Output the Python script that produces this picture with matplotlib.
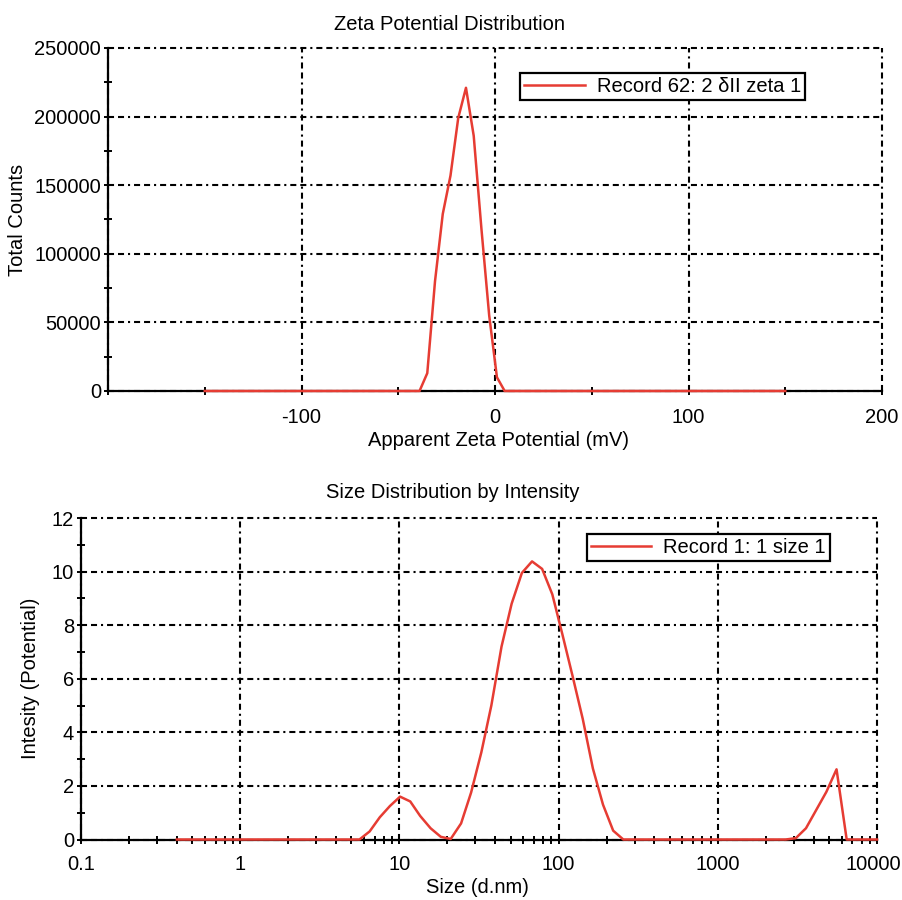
import matplotlib
matplotlib.use("Agg")
import matplotlib.pyplot as plt
from matplotlib.ticker import MultipleLocator, FixedLocator, FixedFormatter, LogLocator, NullFormatter
from matplotlib.transforms import ScaledTranslation

plt.rcParams['font.family'] = ['Liberation Sans', 'DejaVu Sans']

# ---- data: zeta potential ----
zeta_mv = [-150, -39, -35, -31, -27, -23, -19, -15, -11, -7, -3, 1, 5, 150]
zeta_counts = [0, 0, 13000, 80000, 129000, 157000, 199000, 221000, 186000, 118000, 55000, 10000, 0, 0]
zeta_xticks = [-200, -100, 0, 100, 200]
zeta_xticklabels = ['', '-100', '0', '100', '200']
zeta_yticks = [0, 50000, 100000, 150000, 200000, 250000]
zeta_legend = 'Record 62: 2 δII zeta 1'

# ---- data: size distribution ----
size_nm = [0.4, 5.61, 6.50, 7.53, 8.72, 10.1, 11.7, 13.5, 15.7, 18.2, 21.0, 24.4, 28.2,
           32.7, 37.8, 43.8, 50.7, 58.8, 68.1, 78.8, 91.3, 105.7, 122.4, 141.8, 164.2,
           190.1, 220.2, 255.0, 2670, 3090, 3580, 4150, 4810, 5570, 6450, 10000]
intensity = [0, 0, 0.3, 0.83, 1.25, 1.6, 1.42, 0.88, 0.42, 0.1, 0.02, 0.6, 1.75,
             3.25, 5.0, 7.2, 8.8, 9.95, 10.38, 10.1, 9.15, 7.65, 6.1, 4.5, 2.65,
             1.3, 0.33, 0, 0, 0.05, 0.42, 1.1, 1.78, 2.62, 0, 0]
size_xticks = [0.1, 1, 10, 100, 1000, 10000]
size_xticklabels = ['0.1', '1', '10', '100', '1000', '10000']
size_yticks = [0, 2, 4, 6, 8, 10, 12]
size_legend = 'Record 1: 1 size 1'

RED = '#e63c33'
FS = 14.5
grid_ls = (0, (2.9, 1.9, 2.9, 1.9, 1.0, 1.9))

fig = plt.figure(figsize=(9.02, 9.00), dpi=100)
fig.patch.set_facecolor('white')

W, H = 902.0, 900.0
def axrect(l, r, t, b):
    return [l / W, 1 - b / H, (r - l) / W, (b - t) / H]

ax1 = fig.add_axes(axrect(108, 882, 48, 391))
ax2 = fig.add_axes(axrect(81, 877, 518, 839.5))

def style(ax):
    for s in ['top', 'right']:
        ax.spines[s].set_visible(False)
    for s in ['left', 'bottom']:
        ax.spines[s].set_linewidth(1.6)
        ax.spines[s].set_color('black')
    ax.tick_params(which='both', direction='inout', length=6, width=1.4, colors='black',
                   labelsize=FS)
    ax.tick_params(axis='y', pad=2)
    ax.grid(True, which='major', color='black', linewidth=1.5, linestyle=grid_ls)
    ax.set_axisbelow(True)
    for gl in ax.get_xgridlines() + ax.get_ygridlines():
        gl.set_clip_on(False)

# ---- top chart ----
ax1.plot(zeta_mv, zeta_counts, color=RED, linewidth=1.8, zorder=3, clip_on=False,
         label=zeta_legend)
ax1.set_xlim(-200, 200)
ax1.set_ylim(0, 250000)
ax1.xaxis.set_major_locator(FixedLocator(zeta_xticks))
ax1.xaxis.set_major_formatter(FixedFormatter(zeta_xticklabels))
ax1.xaxis.set_minor_locator(MultipleLocator(50))
ax1.yaxis.set_major_locator(FixedLocator(zeta_yticks))
ax1.yaxis.set_major_formatter(FixedFormatter([str(v) for v in zeta_yticks]))
ax1.yaxis.set_minor_locator(MultipleLocator(25000))
style(ax1)
ax1.tick_params(axis='x', pad=9)
ax1.set_xlabel('Apparent Zeta Potential (mV)', fontsize=FS, va='center')
ax1.xaxis.set_label_coords(0.504, -0.143)
ax1.set_ylabel('Total Counts', fontsize=FS, va='center')
ax1.yaxis.set_label_coords(-0.1163, 0.5)
leg1 = ax1.legend(loc='upper right', bbox_to_anchor=(0.9005, 0.927), borderaxespad=0,
                  fancybox=False, edgecolor='black', framealpha=1, fontsize=FS,
                  borderpad=0.2, handlelength=3.0, handletextpad=0.6)
leg1.get_frame().set_linewidth(1.6)
fig.text(449 / W, 1 - 24 / H, 'Zeta Potential Distribution', fontsize=FS,
         ha='center', va='center')

# ---- bottom chart ----
ax2.plot(size_nm, intensity, color=RED, linewidth=1.8, zorder=3, clip_on=False,
         label=size_legend)
ax2.set_xscale('log')
ax2.set_xlim(0.1, 10000)
ax2.set_ylim(0, 12)
ax2.xaxis.set_major_locator(FixedLocator(size_xticks))
ax2.xaxis.set_major_formatter(FixedFormatter(size_xticklabels))
ax2.xaxis.set_minor_locator(LogLocator(base=10, subs=[2, 3, 4, 5, 6, 7, 8, 9]))
ax2.xaxis.set_minor_formatter(NullFormatter())
ax2.yaxis.set_major_locator(FixedLocator(size_yticks))
ax2.yaxis.set_major_formatter(FixedFormatter([str(v) for v in size_yticks]))
ax2.yaxis.set_minor_locator(MultipleLocator(1))
style(ax2)
ax2.tick_params(axis='x', pad=8)
ax2.set_xlabel('Size (d.nm)', fontsize=FS, va='center')
ax2.xaxis.set_label_coords(0.4975, -0.148)
ax2.set_ylabel('Intesity (Potential)', fontsize=FS, va='center')
ax2.yaxis.set_label_coords(-0.064, 0.5)
leg2 = ax2.legend(loc='upper right', bbox_to_anchor=(0.941, 0.951), borderaxespad=0,
                  fancybox=False, edgecolor='black', framealpha=1, fontsize=FS,
                  borderpad=0.2, handlelength=3.0, handletextpad=0.6)
leg2.get_frame().set_linewidth(1.6)
fig.text(453 / W, 1 - 493 / H, 'Size Distribution by Intensity', fontsize=FS,
         ha='center', va='center')

# keep the last size label inside the canvas
fig.canvas.draw()
last = ax2.get_xticklabels()[-1]
last.set_transform(last.get_transform() + ScaledTranslation(-4 / 100, 0, fig.dpi_scale_trans))

fig.savefig('out.png', dpi=100, facecolor='white')
